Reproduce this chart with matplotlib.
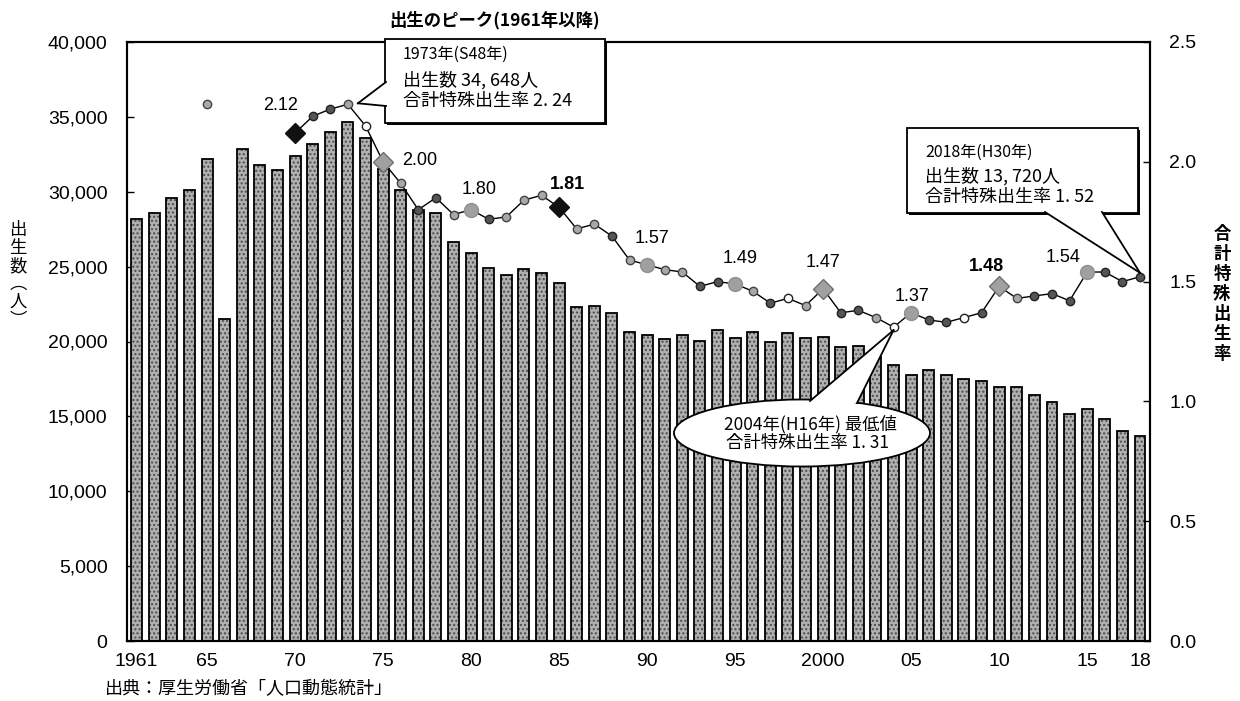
import numpy as np
import matplotlib.pyplot as plt
from matplotlib.patches import Rectangle, Ellipse, Polygon
from matplotlib.lines import Line2D
from matplotlib.transforms import IdentityTransform

plt.rcParams['font.family'] = ['Liberation Sans', 'Noto Sans CJK JP', 'DejaVu Sans']
plt.rcParams['hatch.linewidth'] = 1.0
JP = ['Noto Sans CJK JP', 'DejaVu Sans']

# births per year (bars)
years = list(range(1961, 2019))
births = [28160, 28590, 29570, 30120, 32200, 21530, 32850, 31770, 31440, 32380,
          33180, 34000, 34648, 33620, 31500, 30120, 28810, 28590, 26620, 25900,
          24940, 24440, 24810, 24590, 23910, 22320, 22400, 21920, 20650, 20430,
          20170, 20430, 20060, 20760, 20240, 20650, 19990, 20540, 20240, 20280,
          19630, 19730, 18990, 18460, 17760, 18090, 17760, 17500, 17370, 16940,
          16940, 16450, 15970, 15180, 15470, 14810, 14050, 13720]

# total fertility rate (line), annual from 1970
tfr_years = list(range(1970, 2019))
tfr = [2.12, 2.19, 2.22, 2.24, 2.15, 2.00, 1.91, 1.80, 1.85, 1.78,
       1.80, 1.76, 1.77, 1.84, 1.86, 1.81, 1.72, 1.74, 1.69, 1.59,
       1.57, 1.55, 1.54, 1.48, 1.50, 1.49, 1.46, 1.41, 1.43, 1.40,
       1.47, 1.37, 1.38, 1.35, 1.31, 1.37, 1.34, 1.33, 1.35, 1.37,
       1.48, 1.43, 1.44, 1.45, 1.42, 1.54, 1.54, 1.50, 1.52]
# census-year value, shown as a lone point
tfr_1965_year = [1965]
tfr_1965 = [2.24]

xtick_years = [1961, 1965, 1970, 1975, 1980, 1985, 1990, 1995, 2000, 2005, 2010, 2015, 2018]
xtick_labels = ['1961', '65', '70', '75', '80', '85', '90', '95', '2000', '05', '10', '15', '18']

# marker look per year (style only)
mk_codes = ['D', 'd', 'd', 'g', 'w', 'Q', 'g', 'd', 'd', 'g',
            'G', 'd', 'g', 'g', 'g', 'D', 'g', 'g', 'd', 'g',
            'G', 'g', 'g', 'd', 'd', 'G', 'g', 'd', 'w', 'g',
            'Q', 'd', 'd', 'g', 'w', 'G', 'd', 'd', 'w', 'd',
            'Q', 'g', 'd', 'd', 'd', 'G', 'd', 'd', 'd']
mk_style = {
    'd': dict(marker='o', ms=6, mfc='#555555', mec='#222222'),
    'g': dict(marker='o', ms=6, mfc='#a8a8a8', mec='#444444'),
    'w': dict(marker='o', ms=6, mfc='white', mec='#222222'),
    'G': dict(marker='o', ms=10, mfc='#a0a0a0', mec='#909090'),
    'D': dict(marker='D', ms=10, mfc='#111111', mec='#111111'),
    'Q': dict(marker='D', ms=10, mfc='#a0a0a0', mec='#707070'),
}
# value labels: year -> (dx, dy) pixel offset, bold
lab_pos = {1970: (-15, 28, False), 1975: (37, 1, False), 1980: (8, 20, False),
           1985: (8, 23, True), 1990: (5, 26, False), 1995: (5, 25, False),
           2000: (0, 26, False), 2005: (1, 16, False), 2010: (-13, 20, True),
           2015: (-24, 15, False)}

W, H = 1240, 701
fig = plt.figure(figsize=(W / 100, H / 100), dpi=100)
ax = fig.add_axes([127 / W, 1 - 641 / H, (1150 - 127) / W, (641 - 42) / H])

ax.bar(years, births, width=0.62, color='#b0b0b0', edgecolor='#4c4c4c',
       hatch='....', linewidth=0, zorder=2)
ax.bar(years, births, width=0.62, fill=False, edgecolor='black',
       linewidth=1.3, zorder=3)
ax.set_xlim(1960.45, 2018.57)
ax.set_ylim(0, 40000)
ax.set_yticks(np.arange(0, 40001, 5000))
ax.set_yticklabels([f'{v:,}' for v in range(0, 40001, 5000)])
ax.set_xticks(xtick_years)
ax.set_xticklabels(xtick_labels)
ax.tick_params(axis='y', direction='in', length=5, width=1, pad=14, labelsize=14)
ax.tick_params(axis='x', length=0, pad=9, labelsize=14)
for s in ax.spines.values():
    s.set_linewidth(1.5)

ax2 = ax.twinx()
ax2.set_ylim(0, 2.5)
ax2.set_yticks(np.arange(0, 2.51, 0.5))
ax2.set_yticklabels([f'{v:.1f}' for v in np.arange(0, 2.51, 0.5)])
ax2.tick_params(axis='y', direction='in', length=5, width=1, pad=14, labelsize=14)
for s in ax2.spines.values():
    s.set_linewidth(1.5)

ax2.plot(tfr_years, tfr, color='black', lw=1.0, zorder=3)
for yr, v, c in zip(tfr_years, tfr, mk_codes):
    ax2.plot([yr], [v], ls='none', zorder=4, **mk_style[c])
ax2.plot(tfr_1965_year, tfr_1965, ls='none', zorder=4, **mk_style['g'])

for yr, v in zip(tfr_years, tfr):
    if yr in lab_pos:
        dx, dy, bold = lab_pos[yr]
        ax2.annotate(f'{v:.2f}', (yr, v), xytext=(dx, dy), textcoords='offset pixels',
                     ha='center', va='center', fontsize=13,
                     fontweight='bold' if bold else 'normal', zorder=6)

# callouts (reference pixel coordinates, y from top)
T = IdentityTransform()


def P(x, y):
    return (x, H - y)


def data_px(yr, v):
    dx, dy = ax2.transData.transform((yr, v))
    return dx, H - dy


def box(x0, y0, x1, y1):
    fig.add_artist(Rectangle(P(x0 + 2, y1 + 2), x1 - x0, y1 - y0, transform=T,
                             facecolor='black', edgecolor='none', zorder=5))
    fig.add_artist(Rectangle(P(x0, y1), x1 - x0, y1 - y0, transform=T,
                             facecolor='white', edgecolor='black', lw=1.3, zorder=5))


def wedge(a, b, tip, inner):
    fig.add_artist(Polygon([P(*a), P(*tip), P(*b), P(*inner)], closed=True, transform=T,
                           facecolor='white', edgecolor='none', zorder=6))
    for e in (a, b):
        fig.add_artist(Line2D([P(*e)[0], P(*tip)[0]], [P(*e)[1], P(*tip)[1]],
                              transform=T, color='black', lw=1.3, zorder=7))


def jtext(x, y, s, size=13, ha='left', weight='normal'):
    fig.text(x / W, 1 - y / H, s, fontsize=size, ha=ha, va='center',
             family=JP, fontweight=weight, zorder=8)


# 1973 peak
box(385, 39, 605, 123)
tx, ty = data_px(1973, 2.24)
wedge((386, 82), (386, 106), (tx + 10, ty - 1), (392, 94))
jtext(403, 54, '1973年(S48年)', size=11.5)
jtext(403, 80, '出生数 34, 648人')
jtext(403, 101, '合計特殊出生率 2. 24')

# 2018
box(907, 128, 1138, 213)
tx, ty = data_px(2018, 1.52)
wedge((1045, 212), (1102, 212), (tx, ty - 4), (1073, 206))
jtext(925, 152, '2018年(H30年)', size=11.5)
jtext(925, 176, '出生数 13, 720人')
jtext(925, 197, '合計特殊出生率 1. 52')

# 2004 minimum
fig.add_artist(Ellipse(P(802, 433), 256, 67, transform=T, facecolor='white',
                       edgecolor='black', lw=1.3, zorder=5))
tx, ty = data_px(2004, 1.31)
wedge((810, 401), (857, 403), (tx, ty + 3), (833, 410))
jtext(810, 424, '2004年(H16年) 最低値', size=12.5, ha='center')
jtext(808, 443, '合計特殊出生率 1. 31', size=12.5, ha='center')

# titles and axis labels
jtext(389, 20, '出生のピーク(1961年以降)', size=12.5, weight='bold')
fig.text(18 / W, 1 - 275 / H, '\n'.join('出生数︵人︶'), fontsize=12.5, family=JP,
         ha='center', va='center', linespacing=1.0)
fig.text(1222 / W, 1 - 294 / H, '\n'.join('合計特殊出生率'), fontsize=12.5, family=JP,
         ha='center', va='center', linespacing=1.15, fontweight='bold')
jtext(105, 689, '出典：厚生労働省「人口動態統計」', size=13)

fig.savefig('out.png', dpi=100)
